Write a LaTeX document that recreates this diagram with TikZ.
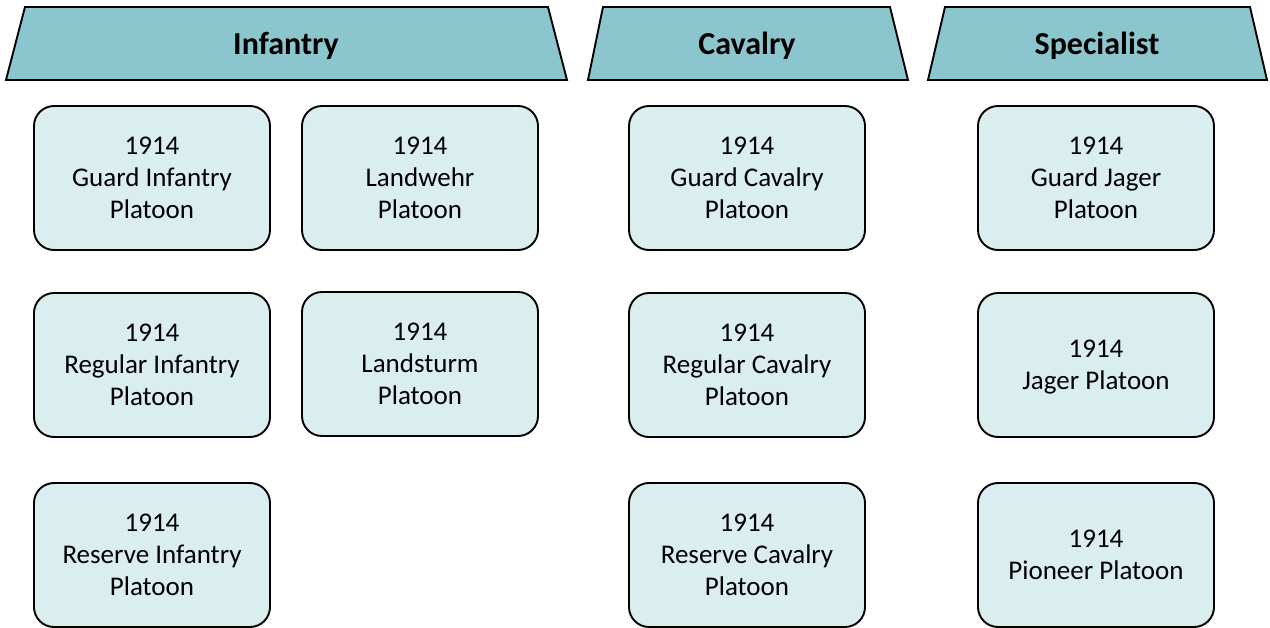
\documentclass[tikz,border=0pt]{standalone}
\usepackage{fontspec}
\setmainfont{Carlito}
\definecolor{headfill}{HTML}{8BC6CE}
\definecolor{boxfill}{HTML}{DAEDEF}
\tikzset{
  headshape/.style={draw=black, fill=headfill, line width=1.9pt, line join=miter},
  headtext/.style={font=\fontsize{32}{36}\selectfont\bfseries, anchor=center},
  unit/.style={draw=black, fill=boxfill, line width=1.9pt, rounded corners=20pt,
    minimum width=236pt, minimum height=144pt, align=center,
    font=\fontsize{27}{32}\selectfont, inner sep=0pt, text depth=0pt}
}
\begin{document}
\begin{tikzpicture}[x=1pt, y=-1pt]
\useasboundingbox (0,0) rectangle (1270,627);
% group headers
\draw[headshape] (25,7) -- (548,7) -- (567,80) -- (6,80) -- cycle;
\node[headtext] (infantry) at (286,46) {Infantry};
\draw[headshape] (603,7) -- (890,7) -- (908,80) -- (588,80) -- cycle;
\node[headtext] (cavalry) at (747,46) {Cavalry};
\draw[headshape] (945,7) -- (1250,7) -- (1267,80) -- (928,80) -- cycle;
\node[headtext] (specialist) at (1097,46) {Specialist};
% infantry platoons
\node[unit] (guardinf) at (152,178) {1914\\Guard Infantry\\Platoon};
\node[unit] (reginf) at (152,365) {1914\\Regular Infantry\\Platoon};
\node[unit] (resinf) at (152,555) {1914\\Reserve Infantry\\Platoon};
\node[unit] (landwehr) at (420,178) {1914\\Landwehr\\Platoon};
\node[unit] (landsturm) at (420,364) {1914\\Landsturm\\Platoon};
% cavalry platoons
\node[unit] (guardcav) at (747,178) {1914\\Guard Cavalry\\Platoon};
\node[unit] (regcav) at (747,365) {1914\\Regular Cavalry\\Platoon};
\node[unit] (rescav) at (747,555) {1914\\Reserve Cavalry\\Platoon};
% specialist platoons
\node[unit] (guardjag) at (1096,178) {1914\\Guard Jager\\Platoon};
\node[unit] (jager) at (1096,365) {1914\\Jager Platoon};
\node[unit] (pioneer) at (1096,555) {1914\\Pioneer Platoon};
\end{tikzpicture}
\end{document}
